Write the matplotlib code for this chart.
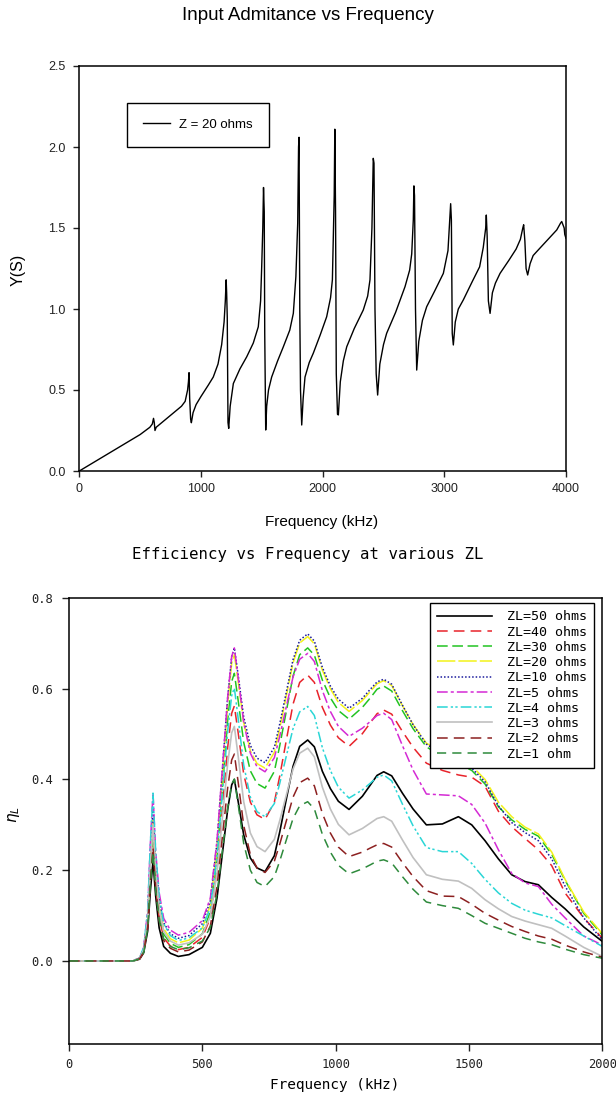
import matplotlib
matplotlib.use("Agg")
import matplotlib.pyplot as plt

# ---------------- Top chart data: Input admittance (Z = 20 ohms) ----------------
adm_freq = [0, 100, 200, 300, 400, 500, 580, 600, 610, 616, 622, 632, 680, 760, 840, 870, 890, 897, 902,
            907, 915, 921, 935, 960, 1000, 1060, 1101, 1140, 1170, 1190, 1200, 1207, 1211, 1216, 1222,
            1228, 1240, 1266, 1320, 1376, 1430, 1471, 1490, 1499, 1508, 1514, 1520, 1524, 1532, 1540,
            1555, 1581, 1630, 1677, 1730, 1759, 1780, 1795, 1802, 1806, 1812, 1818, 1828, 1840, 1855,
            1890, 1923, 1980, 2033, 2065, 2080, 2095, 2100, 2106, 2112, 2122, 2129, 2145, 2170, 2198,
            2260, 2334, 2370, 2389, 2405, 2416, 2422, 2430, 2440, 2452, 2470, 2500, 2526, 2600, 2677,
            2715, 2732, 2745, 2750, 2755, 2763, 2773, 2790, 2820, 2855, 2920, 2992, 3030, 3045, 3052,
            3058, 3065, 3074, 3090, 3115, 3156, 3230, 3290, 3320, 3340, 3345, 3352, 3362, 3376, 3395,
            3420, 3458, 3530, 3590, 3625, 3645, 3652, 3662, 3672, 3685, 3705, 3730, 3759, 3840, 3924,
            3955, 3965, 3985, 3990, 4000]
adm_y = [0.0, 0.045, 0.09, 0.135, 0.18, 0.225, 0.27, 0.29, 0.325, 0.30, 0.25, 0.27, 0.30, 0.35, 0.40, 0.43, 0.50, 0.55, 0.607,
         0.45, 0.32, 0.298, 0.36, 0.41, 0.46, 0.53, 0.58, 0.66, 0.78, 0.92, 1.05, 1.18, 1.10, 0.95, 0.30,
         0.263, 0.40, 0.54, 0.63, 0.705, 0.79, 0.89, 1.05, 1.26, 1.50, 1.75, 1.60, 0.85, 0.253, 0.40,
         0.50, 0.58, 0.68, 0.767, 0.87, 0.973, 1.20, 1.53, 2.00, 2.06, 1.00, 0.50, 0.284, 0.45, 0.58,
         0.67, 0.727, 0.84, 0.952, 1.07, 1.18, 1.70, 2.11, 1.60, 0.60, 0.35, 0.346, 0.55, 0.68, 0.767,
         0.88, 0.994, 1.08, 1.18, 1.50, 1.93, 1.90, 1.00, 0.60, 0.469, 0.66, 0.78, 0.85, 0.98, 1.138,
         1.24, 1.34, 1.55, 1.76, 1.70, 1.00, 0.623, 0.80, 0.93, 1.014, 1.11, 1.22, 1.36, 1.55, 1.65,
         1.55, 0.85, 0.778, 0.92, 1.00, 1.056, 1.17, 1.26, 1.38, 1.50, 1.58, 1.45, 1.05, 0.973, 1.10,
         1.16, 1.22, 1.30, 1.37, 1.43, 1.50, 1.52, 1.42, 1.25, 1.21, 1.28, 1.33, 1.354, 1.42, 1.488,
         1.53, 1.54, 1.50, 1.46, 1.436]
adm_label = "Z = 20 ohms"
adm_xticks = [0, 1000, 2000, 3000, 4000]
adm_yticks = [0.0, 0.5, 1.0, 1.5, 2.0, 2.5]

# ---------------- Bottom chart data: Efficiency vs frequency ----------------
eff_freq = [0, 240, 265, 280, 295, 305, 315, 325, 338, 355, 380, 410, 450, 500, 530, 555, 575, 595, 610, 620,
            635, 655, 680, 705, 735, 770, 790, 815, 840, 865, 895, 920, 950, 980, 1010, 1050, 1100, 1130,
            1155, 1180, 1210, 1250, 1290, 1340, 1400, 1460, 1510, 1560, 1610, 1660, 1710, 1760, 1810,
            1860, 1930, 2000]

eff_zl50 = [0, 0, 0.004, 0.018, 0.066, 0.154, 0.22, 0.143, 0.073, 0.032, 0.017, 0.010, 0.014, 0.030, 0.061,
            0.139, 0.236, 0.334, 0.388, 0.400, 0.349, 0.278, 0.227, 0.205, 0.197, 0.232, 0.284, 0.357, 0.429,
            0.473, 0.487, 0.472, 0.418, 0.380, 0.352, 0.334, 0.363, 0.388, 0.409, 0.417, 0.408, 0.370, 0.335,
            0.300, 0.302, 0.318, 0.300, 0.265, 0.225, 0.190, 0.175, 0.168, 0.140, 0.115, 0.075, 0.043]
eff_zl40 = [0, 0, 0.005, 0.021, 0.078, 0.182, 0.26, 0.169, 0.096, 0.051, 0.033, 0.025, 0.030, 0.052, 0.095,
            0.202, 0.336, 0.471, 0.546, 0.562, 0.500, 0.412, 0.350, 0.322, 0.312, 0.350, 0.407, 0.487, 0.566,
            0.614, 0.630, 0.614, 0.559, 0.520, 0.492, 0.473, 0.501, 0.525, 0.545, 0.553, 0.544, 0.506, 0.471,
            0.436, 0.420, 0.410, 0.405, 0.385, 0.330, 0.296, 0.270, 0.245, 0.210, 0.150, 0.095, 0.050]
eff_zl30 = [0, 0, 0.006, 0.023, 0.087, 0.203, 0.29, 0.189, 0.108, 0.059, 0.039, 0.030, 0.036, 0.060, 0.109,
            0.229, 0.380, 0.531, 0.616, 0.634, 0.571, 0.482, 0.419, 0.391, 0.381, 0.418, 0.474, 0.551, 0.628,
            0.675, 0.690, 0.674, 0.619, 0.580, 0.552, 0.533, 0.559, 0.580, 0.599, 0.606, 0.595, 0.552, 0.512,
            0.472, 0.450, 0.435, 0.420, 0.390, 0.340, 0.311, 0.290, 0.275, 0.235, 0.178, 0.105, 0.057]
eff_zl20 = [0, 0, 0.006, 0.025, 0.093, 0.217, 0.31, 0.202, 0.121, 0.071, 0.049, 0.040, 0.046, 0.072, 0.123,
            0.250, 0.408, 0.567, 0.656, 0.675, 0.613, 0.525, 0.463, 0.435, 0.425, 0.460, 0.512, 0.585, 0.657,
            0.701, 0.715, 0.699, 0.641, 0.600, 0.570, 0.550, 0.574, 0.594, 0.611, 0.618, 0.607, 0.563, 0.521,
            0.480, 0.460, 0.445, 0.430, 0.400, 0.350, 0.318, 0.295, 0.280, 0.240, 0.180, 0.108, 0.060]
eff_zl10 = [0, 0, 0.007, 0.027, 0.102, 0.238, 0.34, 0.221, 0.137, 0.084, 0.060, 0.050, 0.056, 0.082, 0.133,
            0.261, 0.421, 0.581, 0.671, 0.690, 0.627, 0.538, 0.475, 0.447, 0.437, 0.471, 0.522, 0.593, 0.664,
            0.707, 0.721, 0.705, 0.647, 0.606, 0.577, 0.557, 0.579, 0.599, 0.615, 0.621, 0.610, 0.564, 0.521,
            0.478, 0.455, 0.440, 0.425, 0.395, 0.342, 0.305, 0.283, 0.265, 0.225, 0.165, 0.095, 0.046]
eff_zl5 = [0, 0, 0.007, 0.030, 0.111, 0.259, 0.37, 0.241, 0.151, 0.094, 0.068, 0.057, 0.063, 0.089, 0.139,
           0.266, 0.424, 0.582, 0.671, 0.690, 0.622, 0.526, 0.458, 0.428, 0.417, 0.448, 0.495, 0.561, 0.626,
           0.665, 0.678, 0.660, 0.596, 0.550, 0.517, 0.495, 0.513, 0.528, 0.541, 0.546, 0.532, 0.475, 0.421,
           0.368, 0.366, 0.364, 0.345, 0.304, 0.245, 0.193, 0.172, 0.164, 0.125, 0.095, 0.055, 0.035]
eff_zl4 = [0, 0, 0.007, 0.030, 0.111, 0.259, 0.37, 0.241, 0.143, 0.082, 0.056, 0.045, 0.051, 0.073, 0.117,
           0.229, 0.368, 0.507, 0.585, 0.602, 0.531, 0.432, 0.361, 0.329, 0.318, 0.347, 0.391, 0.452, 0.512,
           0.549, 0.561, 0.541, 0.470, 0.420, 0.383, 0.359, 0.377, 0.392, 0.405, 0.410, 0.397, 0.346, 0.298,
           0.250, 0.241, 0.241, 0.215, 0.180, 0.150, 0.127, 0.112, 0.103, 0.095, 0.078, 0.055, 0.032]
eff_zl3 = [0, 0, 0.006, 0.024, 0.090, 0.210, 0.30, 0.195, 0.115, 0.065, 0.044, 0.035, 0.040, 0.059, 0.098,
           0.194, 0.315, 0.435, 0.503, 0.517, 0.448, 0.351, 0.282, 0.252, 0.241, 0.268, 0.309, 0.366, 0.423,
           0.458, 0.469, 0.450, 0.383, 0.335, 0.301, 0.278, 0.292, 0.304, 0.314, 0.318, 0.308, 0.267, 0.228,
           0.190, 0.180, 0.176, 0.160, 0.135, 0.115, 0.098, 0.088, 0.080, 0.072, 0.055, 0.030, 0.010]
eff_zl2 = [0, 0, 0.005, 0.020, 0.075, 0.175, 0.25, 0.163, 0.089, 0.045, 0.028, 0.020, 0.024, 0.042, 0.077,
           0.164, 0.273, 0.382, 0.443, 0.456, 0.391, 0.299, 0.234, 0.205, 0.195, 0.220, 0.257, 0.309, 0.361,
           0.393, 0.403, 0.386, 0.325, 0.282, 0.251, 0.230, 0.240, 0.249, 0.256, 0.259, 0.251, 0.217, 0.186,
           0.155, 0.143, 0.142, 0.125, 0.105, 0.090, 0.076, 0.065, 0.055, 0.048, 0.035, 0.020, 0.008]
eff_zl1 = [0, 0, 0.005, 0.019, 0.072, 0.168, 0.24, 0.156, 0.090, 0.049, 0.032, 0.025, 0.029, 0.044, 0.074,
           0.149, 0.243, 0.337, 0.390, 0.401, 0.342, 0.259, 0.200, 0.173, 0.164, 0.186, 0.220, 0.267, 0.314,
           0.342, 0.351, 0.335, 0.279, 0.240, 0.211, 0.192, 0.203, 0.212, 0.220, 0.223, 0.216, 0.186, 0.158,
           0.130, 0.122, 0.116, 0.100, 0.083, 0.072, 0.061, 0.050, 0.042, 0.036, 0.026, 0.014, 0.006]

eff_labels = ["ZL=50 ohms", "ZL=40 ohms", "ZL=30 ohms", "ZL=20 ohms", "ZL=10 ohms",
              "ZL=5 ohms", "ZL=4 ohms", "ZL=3 ohms", "ZL=2 ohms", "ZL=1 ohm"]
eff_series = [eff_zl50, eff_zl40, eff_zl30, eff_zl20, eff_zl10, eff_zl5, eff_zl4, eff_zl3, eff_zl2, eff_zl1]
eff_xticks = [0, 500, 1000, 1500, 2000]
eff_yticks = [0.0, 0.2, 0.4, 0.6, 0.8]

# styles
eff_colors = ["#000000", "#e8232b", "#22c322", "#f2f21a", "#1a1a9c",
              "#d42ad4", "#2ad6d6", "#c0c0c0", "#8c2020", "#2e8a3c"]
eff_dashes = [None, (7, 4), (7, 3), (12, 2), (1, 1.3), (7, 2, 2, 2), (7, 2, 1.5, 1.5, 1.5, 2),
              None, (7, 4), (6, 4)]
eff_widths = [1.2, 1.1, 1.1, 1.1, 1.1, 1.1, 1.1, 1.2, 1.1, 1.1]

W, H = 616, 1097
fig = plt.figure(figsize=(W / 100, H / 100), dpi=100)
fig.patch.set_facecolor("white")

top_font = ["Liberation Sans", "DejaVu Sans"]
bot_font = ["DejaVu Sans Mono", "DejaVu Sans"]


def fx(px):
    return px / W


def fy(py):
    return 1 - py / H


# ---------------- Top axes ----------------
ax1 = fig.add_axes([fx(79.3), fy(471), fx(566) - fx(79.3), fy(66) - fy(471)])
ax1.plot(adm_freq, adm_y, color="black", lw=1.0, label=adm_label)
ax1.set_xlim(0, 4000)
ax1.set_ylim(0, 2.5)
ax1.set_xticks(adm_xticks)
ax1.set_xticklabels([str(v) for v in adm_xticks], family=top_font, fontsize=9)
ax1.set_yticks(adm_yticks)
ax1.set_yticklabels(["%.1f" % v for v in adm_yticks], family=top_font, fontsize=9)
ax1.tick_params(axis="y", direction="out", length=4.3, width=1, pad=5.5, colors="#222222")
ax1.tick_params(axis="x", direction="out", length=4.3, width=1, pad=4.3, colors="#222222")
for s in ax1.spines.values():
    s.set_linewidth(1.1)
leg1 = ax1.legend(loc="upper left", bbox_to_anchor=(0.098, 0.909), frameon=True, fancybox=False,
                  edgecolor="black", framealpha=1, borderpad=1.2, handlelength=2.05, handletextpad=0.7,
                  borderaxespad=0, prop={"family": top_font, "size": 9.5})
leg1.get_frame().set_linewidth(1.0)
fig.text(0.5, fy(16), "Input Admitance vs Frequency", ha="center", va="center",
         family=top_font, fontsize=13.5)
fig.text(fx(322), fy(522), "Frequency (kHz)", ha="center", va="center", family=top_font, fontsize=11)
fig.text(fx(18), fy(270), "Y(S)", ha="center", va="center", rotation=90, family=top_font, fontsize=11.5)

# ---------------- Bottom axes ----------------
ax2 = fig.add_axes([fx(69), fy(1044), fx(602.4) - fx(69), fy(598) - fy(1044)])
handles = []
for vals, lab, c, d, w in zip(eff_series, eff_labels, eff_colors, eff_dashes, eff_widths):
    ln, = ax2.plot(eff_freq, vals, color=c, lw=w, label=lab)
    if d is not None:
        ln.set_dashes(d)
    handles.append(ln)
ax2.set_xlim(0, 2000)
ax2.set_ylim(-0.183, 0.8)
ax2.set_xticks(eff_xticks)
ax2.set_xticklabels([str(v) for v in eff_xticks], family=bot_font, fontsize=8.7)
ax2.set_yticks(eff_yticks)
ax2.set_yticklabels(["%.1f" % v for v in eff_yticks], family=bot_font, fontsize=8.7)
ax2.tick_params(axis="y", direction="out", length=5, width=1, pad=6.5, colors="#222222")
ax2.tick_params(axis="x", direction="out", length=5, width=1, pad=5, colors="#222222")
for s in ax2.spines.values():
    s.set_linewidth(1.1)
leg2 = ax2.legend(handles=handles, loc="upper right", bbox_to_anchor=(0.984, 0.989), frameon=True,
                  fancybox=False, edgecolor="black", framealpha=1, borderpad=0.55, labelspacing=0.17,
                  handlelength=4.1, handletextpad=1.1, borderaxespad=0,
                  prop={"family": bot_font, "size": 9.6})
leg2.get_frame().set_linewidth(1.0)
fig.text(0.5, fy(555), "Efficiency vs Frequency at various ZL", ha="center", va="center",
         family=bot_font, fontsize=11.3)
fig.text(fx(335), fy(1085), "Frequency (kHz)", ha="center", va="center", family=bot_font, fontsize=10.4)
fig.text(fx(14), fy(815), r"$\eta_L$", ha="center", va="center", rotation=90, fontsize=11)

fig.savefig("out.png", dpi=100, facecolor="white")
